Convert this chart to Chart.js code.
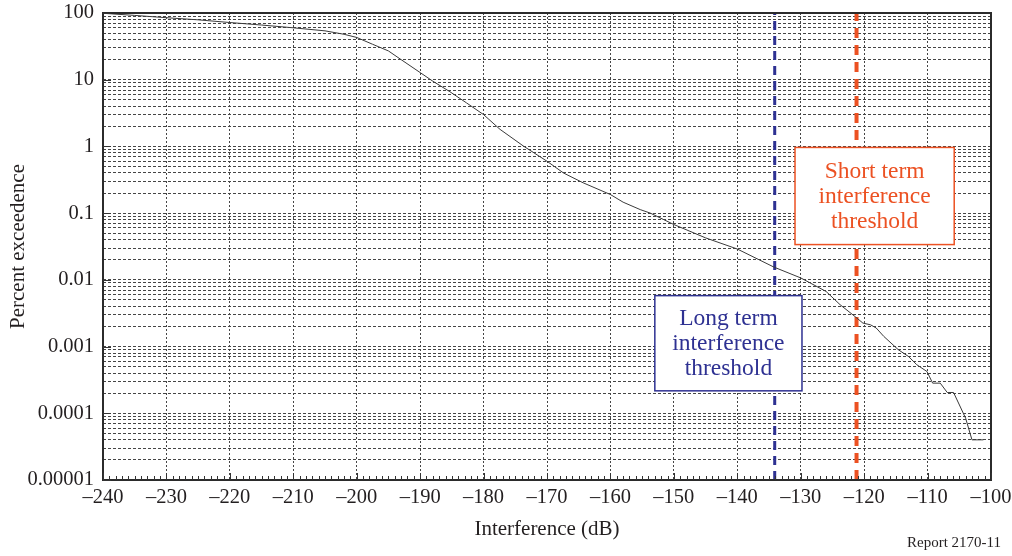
<!DOCTYPE html>
<html>
<head>
<meta charset="utf-8">
<script src="https://cdn.jsdelivr.net/npm/chart.js@4.4.1/dist/chart.umd.min.js"></script>
<style>
  html, body { margin: 0; padding: 0; background: #ffffff; }
  #wrap { width: 1012px; height: 556px; position: relative; }
</style>
</head>
<body>
<div id="wrap"><canvas id="chart" width="1012" height="556"></canvas></div>
<script>
// ---- Data ----
const interferenceDb = [
  -240, -235, -230, -225, -220, -215, -210, -205, -202, -200,
  -197.5, -195, -193, -190, -188, -185.3, -182.7, -180, -177.4, -173.7,
  -170, -167.4, -164.3, -160, -158, -155.3, -153.7, -150, -145, -140,
  -134.2, -130, -126, -123.8, -121.4, -120.2, -119, -118.1, -116.9, -114.6,
  -113, -111.7, -110.1, -109.2, -108, -106.9, -105.9, -104, -103, -101.2
];
const percentExceedence = [
  99, 92, 85, 79, 72, 66, 60, 54, 48, 43,
  34, 27, 20, 12.8, 9.5, 6.6, 4.5, 3.0, 1.8, 1.01,
  0.60, 0.40, 0.285, 0.19, 0.146, 0.113, 0.10, 0.0675, 0.0426, 0.029,
  0.0155, 0.0107, 0.0067, 0.00425, 0.0028, 0.00225, 0.00212, 0.0019, 0.00142, 0.000895,
  0.00071, 0.000534, 0.000423, 0.000283, 0.000283, 0.000205, 0.000205, 0.0000843, 0.00004, 0.00004
];
const xTickValues = [-240, -230, -220, -210, -200, -190, -180, -170, -160, -150, -140, -130, -120, -110, -100];
const yTickValues = [100, 10, 1, 0.1, 0.01, 0.001, 0.0001, 0.00001];
const yTickLabels = ['100', '10', '1', '0.1', '0.01', '0.001', '0.0001', '0.00001'];
const longTermThresholdDb = -134.1;
const shortTermThresholdDb = -121.2;
const longTermLabel = ['Long term', 'interference', 'threshold'];
const shortTermLabel = ['Short term', 'interference', 'threshold'];
const xTitle = 'Interference (dB)';
const yTitle = 'Percent exceedence';
const reportLabel = 'Report 2170-11';

// ---- Styles / layout ----
const FONT = "'Liberation Serif', 'Times New Roman', serif";
const BLUE = '#2E3192';
const RED = '#EC5122';
const GRID = '#454545';
const TEXT = '#231F20';

// annotation boxes anchored in data coordinates
const annotationBoxes = [
  { lines: longTermLabel, color: BLUE, xMin: -153.0, xMax: -129.8, yTop: 0.0058, yBottom: 0.000217 },
  { lines: shortTermLabel, color: RED, xMin: -130.9, xMax: -105.8, yTop: 0.966, yBottom: 0.0338 }
];

const yGridValues = [];
for (let d = yTickValues.length - 1; d >= 1; d--) {
  for (let m = 1; m <= 9; m++) {
    yGridValues.push(Number((m * yTickValues[d]).toPrecision(6)));
  }
}
yGridValues.push(yTickValues[0]);

const curve = interferenceDb.map((x, i) => ({ x: x, y: percentExceedence[i] }));
const yMin = yTickValues[yTickValues.length - 1];
const yMax = yTickValues[0];

const decorPlugin = {
  id: 'decor',
  afterDatasetsDraw(chart) {
    const { ctx, chartArea: a, scales: { x, y } } = chart;
    ctx.save();
    // annotation boxes
    annotationBoxes.forEach(b => {
      const l = x.getPixelForValue(b.xMin), r = x.getPixelForValue(b.xMax);
      const t = y.getPixelForValue(b.yTop), bt = y.getPixelForValue(b.yBottom);
      ctx.fillStyle = '#ffffff';
      ctx.fillRect(l, t, r - l, bt - t);
      ctx.strokeStyle = b.color;
      ctx.lineWidth = 1.5;
      ctx.setLineDash([]);
      ctx.strokeRect(l, t, r - l, bt - t);
      ctx.fillStyle = b.color;
      ctx.font = '23.5px ' + FONT;
      ctx.textAlign = 'center';
      ctx.textBaseline = 'middle';
      const cx = (l + r) / 2, cy = (t + bt) / 2;
      b.lines.forEach((s, i) => ctx.fillText(s, cx, cy + 1 + (i - 1) * 25));
    });
    // frame
    ctx.strokeStyle = '#2b2b2b';
    ctx.lineWidth = 2;
    ctx.strokeRect(a.left, a.top, a.right - a.left, a.bottom - a.top);
    // bottom ticks (inside)
    ctx.lineWidth = 1;
    ctx.strokeStyle = '#333333';
    ctx.beginPath();
    for (let v = x.min; v <= x.max; v += 1) {
      const px = Math.round(x.getPixelForValue(v)) + 0.5;
      const len = (v % 10 === 0) ? 7 : 4;
      ctx.moveTo(px, a.bottom);
      ctx.lineTo(px, a.bottom - len);
    }
    // left major ticks (inside)
    yTickValues.forEach(v => {
      const py = Math.round(y.getPixelForValue(v)) + 0.5;
      ctx.moveTo(a.left, py);
      ctx.lineTo(a.left + 8, py);
    });
    ctx.stroke();
    ctx.restore();
  },
  afterDraw(chart) {
    const { ctx } = chart;
    ctx.save();
    ctx.fillStyle = TEXT;
    ctx.font = '15px ' + FONT;
    ctx.textAlign = 'right';
    ctx.textBaseline = 'middle';
    ctx.fillText(reportLabel, 1001, 543);
    ctx.restore();
  }
};

new Chart(document.getElementById('chart'), {
  type: 'line',
  data: {
    datasets: [
      {
        label: 'Percent exceedence',
        data: curve,
        borderColor: '#3a3a3a',
        borderWidth: 1,
        pointRadius: 0,
        tension: 0,
        fill: false
      },
      {
        label: 'Long term interference threshold',
        data: [{ x: longTermThresholdDb, y: yMin }, { x: longTermThresholdDb, y: yMax }],
        borderColor: BLUE,
        borderWidth: 3,
        borderDash: [9, 6],
        pointRadius: 0,
        fill: false
      },
      {
        label: 'Short term interference threshold',
        data: [{ x: shortTermThresholdDb, y: yMin }, { x: shortTermThresholdDb, y: yMax }],
        borderColor: RED,
        borderWidth: 4,
        borderDash: [10, 7],
        pointRadius: 0,
        fill: false
      }
    ]
  },
  options: {
    responsive: false,
    animation: false,
    devicePixelRatio: 1,
    layout: { padding: { left: 0, right: 21, top: 13, bottom: 0 } },
    plugins: { legend: { display: false }, tooltip: { enabled: false } },
    scales: {
      x: {
        type: 'linear',
        position: 'bottom',
        min: -240,
        max: -100,
        afterBuildTicks: s => { s.ticks = xTickValues.map(v => ({ value: v })); },
        ticks: {
          autoSkip: false,
          maxRotation: 0,
          padding: 5,
          color: TEXT,
          font: { family: FONT, size: 20.5 },
          callback: v => String(v).replace('-', '\u2013')
        },
        grid: { color: GRID, lineWidth: 1, drawTicks: false },
        border: { display: false, dash: [2, 2] },
        title: {
          display: true,
          text: xTitle,
          color: TEXT,
          font: { family: FONT, size: 21 },
          padding: { top: 0, bottom: 14 }
        },
        afterFit: s => {
          s.height = 76;
          s.paddingLeft = 0; s.paddingRight = 0; s.paddingTop = 0; s.paddingBottom = 0;
        }
      },
      y: {
        type: 'logarithmic',
        position: 'left',
        min: yMin,
        max: yMax,
        afterBuildTicks: s => { s.ticks = yGridValues.map(v => ({ value: v, major: yTickValues.includes(v) })); },
        ticks: {
          autoSkip: false,
          padding: 9,
          color: TEXT,
          font: { family: FONT, size: 20.5 },
          callback: v => {
            const i = yTickValues.findIndex(t => Math.abs(t - v) / t < 1e-6);
            return i >= 0 ? yTickLabels[i] : '';
          }
        },
        grid: { color: GRID, lineWidth: 1, drawTicks: false },
        border: { display: false, dash: [3, 2] },
        title: {
          display: true,
          text: yTitle,
          color: TEXT,
          font: { family: FONT, size: 21 },
          padding: { top: 6, bottom: 0 }
        },
        afterFit: s => {
          s.width = 103;
          s.paddingLeft = 0; s.paddingRight = 0; s.paddingTop = 0; s.paddingBottom = 0;
        }
      }
    }
  },
  plugins: [decorPlugin]
});
</script>
</body>
</html>
